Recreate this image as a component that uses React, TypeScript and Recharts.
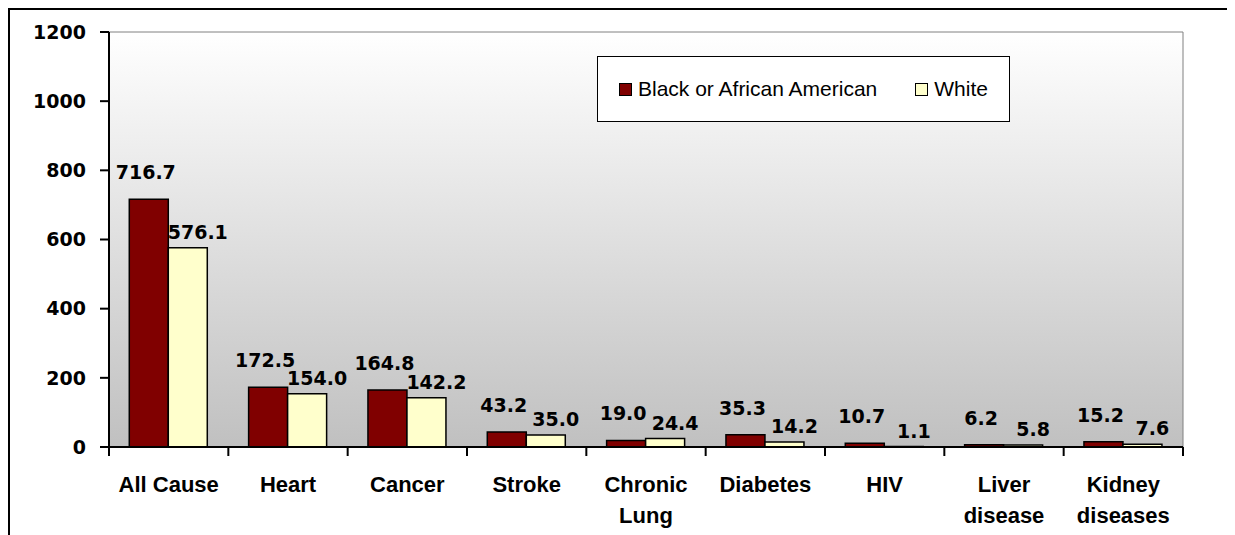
import { BarChart, Bar, XAxis, YAxis, ReferenceArea, LabelList } from 'recharts';

// age-adjusted death rates by cause
const categories = ['All Cause', 'Heart', 'Cancer', 'Stroke', 'Chronic\nLung', 'Diabetes', 'HIV', 'Liver\ndisease', 'Kidney\ndiseases'];
const blackRates = [716.7, 172.5, 164.8, 43.2, 19.0, 35.3, 10.7, 6.2, 15.2];
const whiteRates = [576.1, 154.0, 142.2, 35.0, 24.4, 14.2, 1.1, 5.8, 7.6];
const yTicks = [0, 200, 400, 600, 800, 1000, 1200];
const seriesNames = ['Black or African American', 'White'];
const seriesColors = ['#800000', '#FFFFCC'];

const data = categories.map((name, i) => ({ name, black: blackRates[i], white: whiteRates[i] }));

const W = 1220;
const H = 525;
const margin = { top: 22, right: 47, bottom: 8, left: 0 };
const Y_AXIS_W = 99;
const step = (W - margin.left - margin.right - Y_AXIS_W) / categories.length;

const numFont = { fontFamily: '"DejaVu Sans", Verdana, sans-serif', fontWeight: 'bold' as const, fontSize: 19 };
const catFont = { fontFamily: '"Liberation Sans", Arial, sans-serif', fontWeight: 'bold' as const, fontSize: 22 };

function CategoryTick({ x, y, payload, index }: any) {
  const lines = String(payload.value).split('\n');
  return (
    <g>
      <line x1={x - step / 2} x2={x - step / 2} y1={y} y2={y + 9} stroke="#000" strokeWidth={2} />
      {index === categories.length - 1 && (
        <line x1={x + step / 2} x2={x + step / 2} y1={y} y2={y + 9} stroke="#000" strokeWidth={2} />
      )}
      {lines.map((l, i) => (
        <text key={i} x={x} y={y + 45 + i * 31} textAnchor="middle" fill="#000" style={catFont}>
          {l}
        </text>
      ))}
    </g>
  );
}

const makeLabel = (dx: number, gap: number) => (props: any) => {
  const { x, y, width, value } = props;
  return (
    <text x={x + width / 2 + dx} y={y - gap} textAnchor="middle" fill="#000" style={numFont}>
      {Number(value).toFixed(1)}
    </text>
  );
};

function LegendBox() {
  return (
    <div
      style={{
        position: 'absolute',
        left: 587,
        top: 46,
        width: 413,
        height: 66,
        boxSizing: 'border-box',
        border: '1.5px solid #000',
        background: '#fff',
        display: 'flex',
        alignItems: 'center',
        paddingLeft: 21,
        fontFamily: '"Liberation Sans", Arial, sans-serif',
        fontSize: 21,
        color: '#000',
      }}
    >
      {seriesNames.map((n, i) => (
        <div key={n} style={{ display: 'flex', alignItems: 'center', marginRight: i === 0 ? 38 : 0 }}>
          <span
            style={{
              width: 13,
              height: 13,
              boxSizing: 'border-box',
              border: '1.5px solid #000',
              background: seriesColors[i],
              marginRight: 6,
            }}
          />
          <span>{n}</span>
        </div>
      ))}
    </div>
  );
}

export default function App() {
  return (
    <div
      style={{
        position: 'relative',
        width: 1224,
        height: 527,
        boxSizing: 'border-box',
        border: '2px solid #000',
        borderBottom: 'none',
        background: '#fff',
        overflow: 'hidden',
      }}
    >
      <BarChart width={W} height={H} data={data} margin={margin} barCategoryGap="17%" barGap={0}>
        <defs>
          <linearGradient id="plotBg" x1="0" y1="0" x2="0" y2="1">
            <stop offset="0%" stopColor="#FFFFFF" />
            <stop offset="100%" stopColor="#C0C0C0" />
          </linearGradient>
        </defs>
        <ReferenceArea y1={0} y2={1200} fill="url(#plotBg)" fillOpacity={1} stroke="#808080" strokeWidth={1} />
        <XAxis
          dataKey="name"
          height={80}
          interval={0}
          tickLine={false}
          tickSize={0}
          tickMargin={0}
          axisLine={{ stroke: '#000', strokeWidth: 2 }}
          tick={<CategoryTick />}
        />
        <YAxis
          width={Y_AXIS_W}
          domain={[0, 1200]}
          ticks={yTicks}
          interval={0}
          tickSize={9}
          tickMargin={14}
          axisLine={{ stroke: '#000', strokeWidth: 2 }}
          tickLine={{ stroke: '#000', strokeWidth: 2 }}
          tick={{ fill: '#000', ...numFont }}
        />
        <Bar dataKey="black" name={seriesNames[0]} fill={seriesColors[0]} stroke="#000" strokeWidth={1.5} isAnimationActive={false}>
          <LabelList dataKey="black" content={makeLabel(-3, 20)} />
        </Bar>
        <Bar dataKey="white" name={seriesNames[1]} fill={seriesColors[1]} stroke="#000" strokeWidth={1.5} isAnimationActive={false}>
          <LabelList dataKey="white" content={makeLabel(10, 9)} />
        </Bar>
      </BarChart>
      <LegendBox />
    </div>
  );
}
